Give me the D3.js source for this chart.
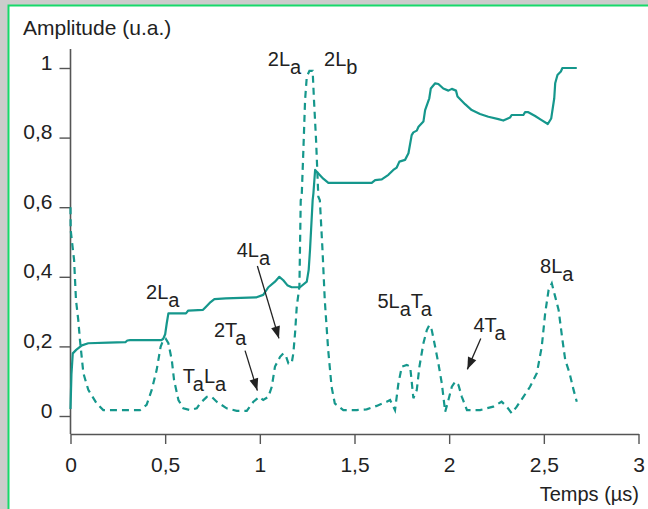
<!DOCTYPE html>
<html>
<head>
<meta charset="utf-8">
<script src="https://cdn.jsdelivr.net/npm/d3@7"></script>
<style>
  html, body { margin: 0; padding: 0; background: #cccccc; }
  svg { display: block; }
</style>
</head>
<body>
<svg id="chart"></svg>
<script>
// Series: [temps (µs), amplitude (u.a.)]
const solidSeries = [
  [0,0.02],[0.005,0.12],[0.012,0.18],[0.03,0.19],[0.06,0.203],[0.094,0.209],[0.2,0.211],[0.29,0.212],
  [0.3,0.217],[0.315,0.218],[0.48,0.218],[0.49,0.222],[0.5,0.235],[0.508,0.265],[0.517,0.295],
  [0.61,0.295],[0.622,0.303],[0.7,0.305],[0.712,0.312],[0.735,0.325],[0.76,0.336],[0.82,0.338],
  [0.983,0.341],[1.018,0.348],[1.045,0.37],[1.08,0.386],[1.103,0.40],[1.124,0.39],[1.145,0.376],
  [1.168,0.37],[1.212,0.37],[1.248,0.386],[1.258,0.42],[1.265,0.477],[1.279,0.62],[1.283,0.64],
  [1.292,0.707],[1.309,0.697],[1.335,0.682],[1.362,0.67],[1.591,0.67],[1.609,0.678],[1.644,0.68],
  [1.679,0.693],[1.705,0.707],[1.723,0.714],[1.737,0.731],[1.767,0.736],[1.785,0.755],[1.802,0.807],
  [1.811,0.815],[1.829,0.82],[1.838,0.831],[1.864,0.846],[1.873,0.879],[1.895,0.913],[1.903,0.941],
  [1.926,0.956],[1.943,0.954],[1.969,0.941],[1.996,0.935],[2.014,0.94],[2.036,0.935],[2.044,0.918],
  [2.084,0.896],[2.119,0.879],[2.163,0.868],[2.207,0.86],[2.26,0.853],[2.286,0.849],[2.322,0.858],
  [2.33,0.865],[2.392,0.865],[2.401,0.873],[2.418,0.873],[2.454,0.862],[2.486,0.851],[2.521,0.839],
  [2.539,0.855],[2.555,0.913],[2.56,0.956],[2.572,0.98],[2.59,0.99],[2.598,1.0],[2.674,1.0]
];

const dashedSeries = [
  [0,0.60],[0.001,0.534],[0.019,0.448],[0.029,0.333],[0.041,0.276],[0.05,0.218],[0.068,0.123],
  [0.094,0.075],[0.138,0.036],[0.173,0.017],[0.367,0.017],[0.402,0.032],[0.429,0.075],[0.455,0.132],
  [0.476,0.199],[0.49,0.218],[0.503,0.222],[0.517,0.209],[0.535,0.161],[0.547,0.103],[0.57,0.046],
  [0.596,0.022],[0.631,0.017],[0.667,0.022],[0.684,0.036],[0.72,0.055],[0.746,0.055],[0.772,0.041],
  [0.825,0.022],[0.878,0.015],[0.931,0.015],[0.966,0.041],[0.997,0.055],[1.018,0.046],[1.045,0.055],
  [1.063,0.084],[1.08,0.142],[1.107,0.17],[1.124,0.18],[1.139,0.17],[1.151,0.151],[1.168,0.151],
  [1.177,0.18],[1.186,0.238],[1.195,0.314],[1.209,0.372],[1.212,0.477],[1.216,0.62],[1.221,0.63],
  [1.23,0.764],[1.239,0.908],[1.248,0.975],[1.262,0.992],[1.279,0.992],[1.286,0.908],[1.297,0.793],
  [1.309,0.63],[1.317,0.62],[1.331,0.477],[1.343,0.333],[1.361,0.19],[1.379,0.084],[1.396,0.036],
  [1.441,0.017],[1.511,0.017],[1.564,0.019],[1.617,0.029],[1.67,0.041],[1.688,0.046],[1.714,0.017],
  [1.732,0.094],[1.75,0.142],[1.776,0.147],[1.794,0.142],[1.811,0.051],[1.829,0.075],[1.843,0.142],
  [1.864,0.209],[1.882,0.247],[1.895,0.261],[1.908,0.247],[1.926,0.199],[1.943,0.151],[1.961,0.094],
  [1.979,0.012],[1.996,0.046],[2.014,0.084],[2.032,0.099],[2.049,0.089],[2.067,0.055],[2.094,0.017],
  [2.163,0.017],[2.233,0.027],[2.277,0.041],[2.304,0.027],[2.33,0.008],[2.357,0.027],[2.392,0.055],
  [2.427,0.084],[2.463,0.123],[2.489,0.199],[2.507,0.295],[2.525,0.362],[2.542,0.381],[2.56,0.343],
  [2.578,0.305],[2.596,0.228],[2.613,0.161],[2.636,0.123],[2.657,0.075],[2.674,0.041]
];

const xTicks = [0, 0.5, 1, 1.5, 2, 2.5, 3];
const yTicks = [0, 0.2, 0.4, 0.6, 0.8, 1];

// annotation texts: parts alternate normal / subscript, anchored in data units
const peakLabels = [
  { parts: [["2L", 0], ["a", 1]], t: 1.042, v: 1.007 },
  { parts: [["2L", 0], ["b", 1]], t: 1.339, v: 1.007 },
  { parts: [["2L", 0], ["a", 1]], t: 0.399, v: 0.335 },
  { parts: [["4L", 0], ["a", 1]], t: 0.878, v: 0.458 },
  { parts: [["2T", 0], ["a", 1]], t: 0.758, v: 0.226 },
  { parts: [["T", 0], ["a", 1], ["L", 0], ["a", 1]], t: 0.593, v: 0.094 },
  { parts: [["5L", 0], ["a", 1], ["T", 0], ["a", 1]], t: 1.621, v: 0.309 },
  { parts: [["4T", 0], ["a", 1]], t: 2.128, v: 0.242 },
  { parts: [["8L", 0], ["a", 1]], t: 2.480, v: 0.412 }
];

const arrows = [
  { t1: 0.987, v1: 0.431, t2: 1.101, v2: 0.223 },
  { t1: 0.922, v1: 0.188, t2: 0.987, v2: 0.073 },
  { t1: 2.167, v1: 0.223, t2: 2.096, v2: 0.134 }
];

document.addEventListener('DOMContentLoaded', function() {
    const width = 648, height = 509;
    const teal = "#15978c";
    const ink = "#222";
    const axisColor = "#555";
    const font = "Liberation Sans, Arial, sans-serif";

    const svg = d3.select("#chart")
        .attr("width", width)
        .attr("height", height)
        .style("font-family", font);

    // grey surround + white panel with the green frame (only left/top visible)
    svg.append("rect").attr("width", width).attr("height", height).attr("fill", "#cccccc");
    svg.append("rect")
        .attr("x", 8.5).attr("y", 5.5)
        .attr("width", 700).attr("height", 600)
        .attr("fill", "#fff")
        .attr("stroke", "#17d96a")
        .attr("stroke-width", 2);

    const x = d3.scaleLinear().domain([0, 3]).range([70.5, 638.5]);
    const y = d3.scaleLinear().domain([0, 1]).range([416, 68]);
    const axisY = 434;
    const fmt = d => String(d).replace(".", ",");

    // axe vertical (ligne plus longue que le domaine)
    svg.append("line")
        .attr("x1", x(0)).attr("x2", x(0))
        .attr("y1", 49).attr("y2", axisY)
        .attr("stroke", axisColor).attr("stroke-width", 1.6);

    const yAxis = svg.append("g")
        .attr("transform", `translate(${x(0)},0)`)
        .call(d3.axisLeft(y).tickValues(yTicks).tickSize(11).tickPadding(7).tickFormat(fmt));
    yAxis.select(".domain").remove();
    yAxis.selectAll(".tick line").attr("stroke", axisColor).attr("stroke-width", 1.4);
    yAxis.selectAll(".tick text")
        .attr("dy", 1)
        .attr("fill", ink)
        .style("font-size", "21px")
        .style("font-family", font);

    const xAxis = svg.append("g")
        .attr("transform", `translate(0,${axisY})`)
        .call(d3.axisBottom(x).tickValues(xTicks).tickSize(10).tickSizeOuter(0).tickFormat(fmt));
    xAxis.select(".domain").attr("stroke", axisColor).attr("stroke-width", 1.6);
    xAxis.selectAll(".tick line").attr("stroke", axisColor).attr("stroke-width", 1.4);
    xAxis.selectAll(".tick text")
        .attr("y", 37.5)
        .attr("dy", 0)
        .attr("fill", ink)
        .style("font-size", "21px")
        .style("font-family", font);

    // titres des axes
    svg.append("text")
        .attr("x", 23).attr("y", 35)
        .attr("fill", ink)
        .style("font-size", "21px")
        .text("Amplitude (u.a.)");
    svg.append("text")
        .attr("x", 639).attr("y", 501)
        .attr("text-anchor", "end")
        .attr("fill", ink)
        .style("font-size", "20px")
        .text("Temps (µs)");

    // courbes
    const line = d3.line()
        .x(d => x(d[0]))
        .y(d => y(d[1]));

    svg.append("path")
        .datum(dashedSeries)
        .attr("d", line)
        .attr("fill", "none")
        .attr("stroke", teal)
        .attr("stroke-width", 2.2)
        .attr("stroke-dasharray", "7,5");

    svg.append("path")
        .datum(solidSeries)
        .attr("d", line)
        .attr("fill", "none")
        .attr("stroke", teal)
        .attr("stroke-width", 2.2)
        .attr("stroke-linejoin", "round");

    // flèches
    svg.append("defs").append("marker")
        .attr("id", "head")
        .attr("viewBox", "0 -5 12 10")
        .attr("refX", 12).attr("refY", 0)
        .attr("markerUnits", "userSpaceOnUse")
        .attr("markerWidth", 13).attr("markerHeight", 10)
        .attr("orient", "auto")
        .append("path")
        .attr("d", "M0,-4.5L12,0L0,4.5Z")
        .attr("fill", ink);

    svg.selectAll(".arrow")
        .data(arrows)
        .join("line")
        .attr("class", "arrow")
        .attr("x1", d => x(d.t1)).attr("y1", d => y(d.v1))
        .attr("x2", d => x(d.t2)).attr("y2", d => y(d.v2))
        .attr("stroke", ink)
        .attr("stroke-width", 1.3)
        .attr("marker-end", "url(#head)");

    // étiquettes des pics avec indices
    const labels = svg.selectAll(".peak")
        .data(peakLabels)
        .join("text")
        .attr("class", "peak")
        .attr("x", d => x(d.t))
        .attr("y", d => y(d.v))
        .attr("fill", ink)
        .style("font-size", "20px");

    labels.each(function(d) {
        const el = d3.select(this);
        let prev = 0;
        d.parts.forEach(p => {
            el.append("tspan")
                .attr("dy", (p[1] - prev) * 8)
                .text(p[0]);
            prev = p[1];
        });
    });

    console.log('Setup complete');
});
</script>
</body>
</html>
